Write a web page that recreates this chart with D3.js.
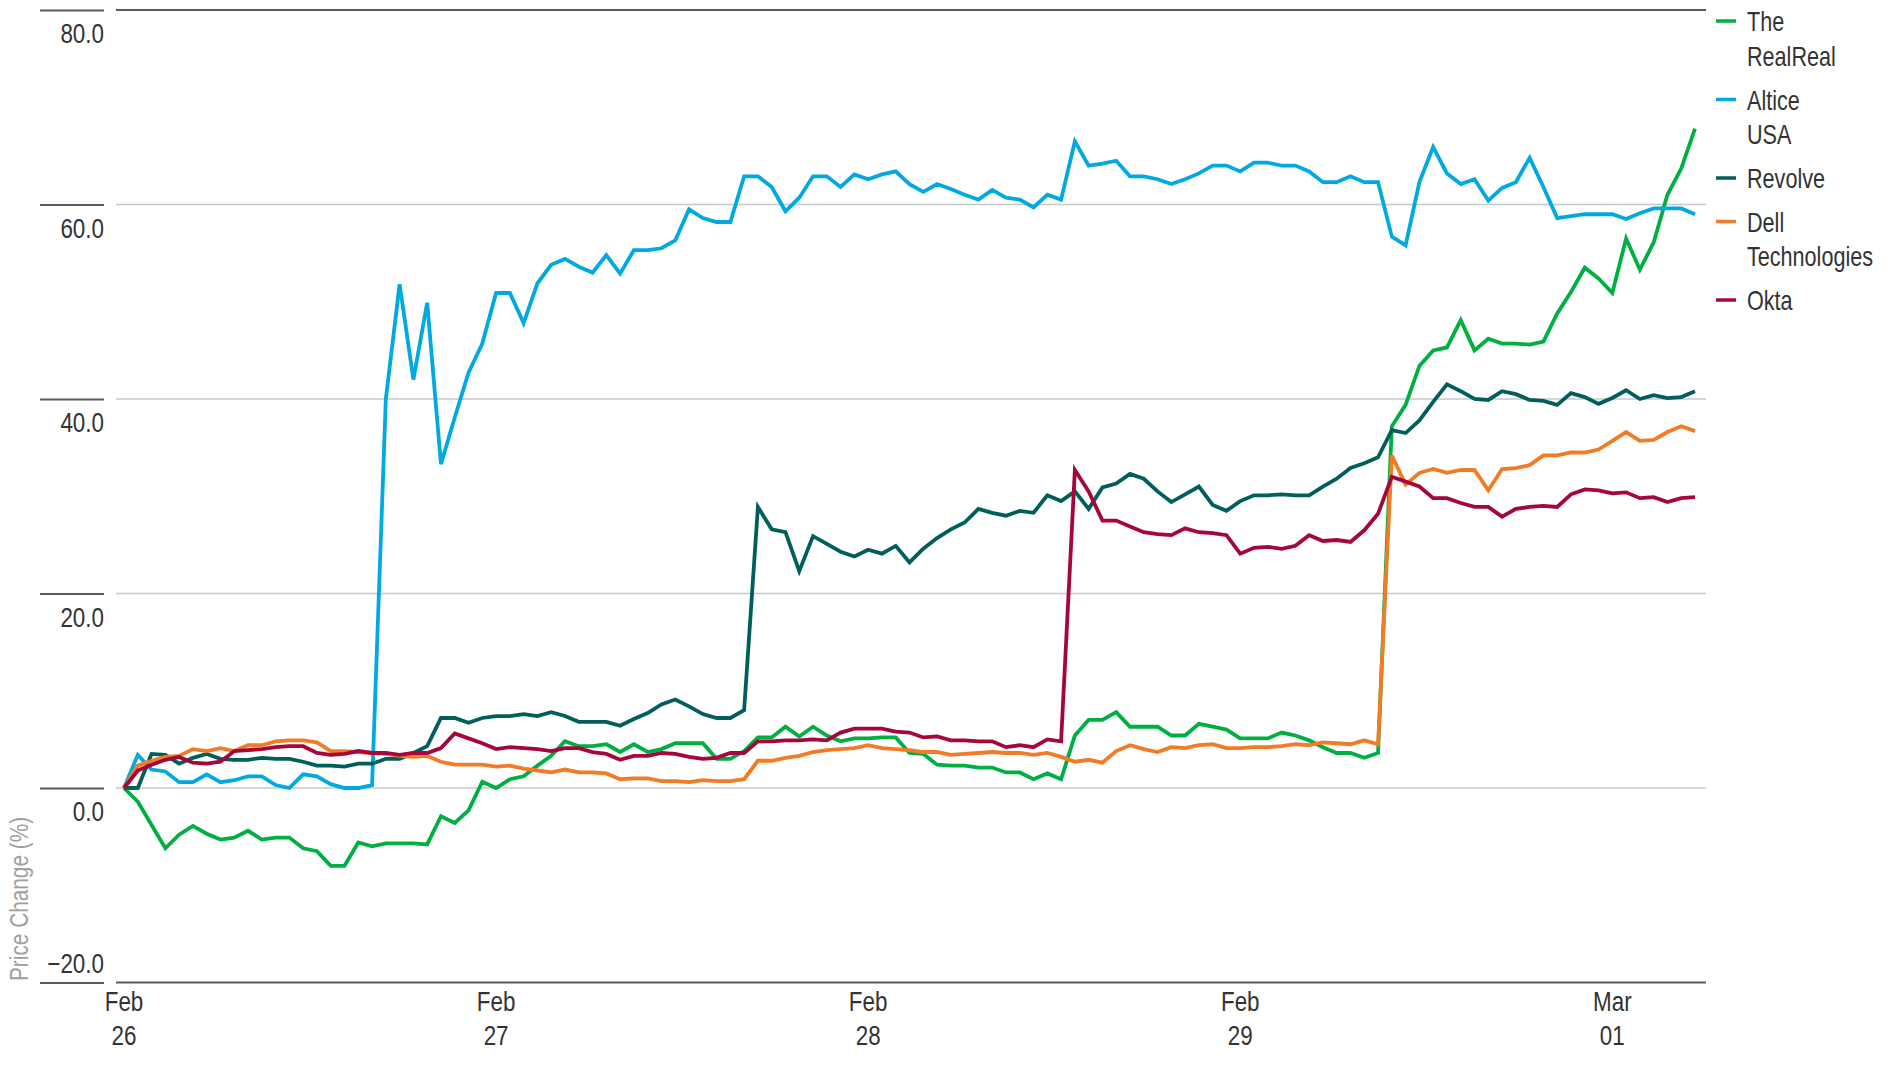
<!DOCTYPE html>
<html>
<head>
<meta charset="utf-8">
<script src="https://cdn.jsdelivr.net/npm/d3@7"></script>
<style>
  body { margin: 0; background: #fff; }
  text { font-family: "Liberation Sans", Arial, sans-serif; }
</style>
</head>
<body>
<svg class="lc_svg"><g class="lc_g"></g></svg>
<script>
// price change (%) per intraday step, Feb 26 - Mar 01
var realreal = [0, -1.4, -3.8, -6.2, -4.8, -3.9, -4.7, -5.3, -5.1, -4.4, -5.3, -5.1, -5.1, -6.2, -6.5, -8.0, -8.0, -5.6, -6.0, -5.7, -5.7, -5.7, -5.8, -2.9, -3.6, -2.3, 0.65, 0.0,
  0.9, 1.2, 2.3, 3.3, 4.8, 4.3, 4.3, 4.5, 3.7, 4.5, 3.7, 4.0, 4.6, 4.6, 4.6, 3.0, 3.0, 3.8, 5.2, 5.2, 6.3, 5.3, 6.3, 5.4, 4.8, 5.1, 5.1, 5.2, 5.2, 3.6, 3.5, 2.4, 2.3, 2.3, 2.1, 2.1,
  1.6, 1.6, 0.9, 1.5, 0.9, 5.4, 7.0, 7.0, 7.8, 6.3, 6.3, 6.3, 5.4, 5.4, 6.6, 6.3, 6.0, 5.1, 5.1, 5.1, 5.7, 5.4, 4.9, 4.2, 3.6, 3.6, 3.1, 3.6,
  37.2, 39.4, 43.4, 45.0, 45.3, 48.1, 45.0, 46.2, 45.7, 45.7, 45.6, 45.9, 48.8, 51.0, 53.5, 52.4, 50.9, 56.5, 53.3, 56.1, 61.0, 63.7, 67.8]

var altice = [0, 3.4, 1.9, 1.7, 0.6, 0.6, 1.4, 0.6, 0.8, 1.2, 1.2, 0.3, 0.0, 1.4, 1.2, 0.4, 0.0, 0.0, 0.3,
  40.0, 51.8, 42.0, 49.9, 33.3, 38.1, 42.7,
  45.7, 50.9, 50.9, 47.8, 51.9, 53.8, 54.4, 53.6, 53.0, 54.8, 52.9, 55.3, 55.3, 55.5, 56.3, 59.5, 58.6, 58.2, 58.2, 62.9, 62.9, 61.8, 59.3, 60.7, 62.9, 62.9, 61.8, 63.1, 62.6, 63.1, 63.4, 62.1, 61.3, 62.1, 61.6, 61.0, 60.5, 61.5,
  60.7, 60.5, 59.7, 61.0, 60.5, 66.5, 64.0, 64.2, 64.5, 62.9, 62.9, 62.6, 62.1, 62.6, 63.2, 64.0, 64.0, 63.4, 64.3, 64.3, 64.0, 64.0, 63.4, 62.3, 62.3, 62.9, 62.3, 62.3,
  56.7, 55.8, 62.3, 65.9, 63.2, 62.1, 62.6, 60.4, 61.7, 62.3, 64.8, 61.8, 58.6, 58.8, 59.0, 59.0, 59.0, 58.5, 59.1, 59.6, 59.6, 59.6, 59.0]

var revolve = [0, 0, 3.5, 3.4, 2.5, 3.1, 3.5, 3.0, 2.9, 2.9, 3.1, 3.0, 3.0, 2.7, 2.3, 2.3, 2.2, 2.5, 2.5, 3.0, 3.0, 3.6, 4.3, 7.2, 7.2, 6.7, 7.2, 7.4,
  7.4, 7.6, 7.4, 7.8, 7.4, 6.8, 6.8, 6.8, 6.4, 7.1, 7.7, 8.6, 9.1, 8.4, 7.6, 7.2, 7.2, 8.0, 28.9, 26.6, 26.3, 22.3, 25.9, 25.1, 24.3, 23.8, 24.5, 24.1, 24.9, 23.2, 24.6, 25.7, 26.6, 27.3, 28.7, 28.3,
  28.0, 28.5, 28.3, 30.1, 29.5, 30.5, 28.7, 30.9, 31.3, 32.3, 31.8, 30.5, 29.4, 30.2, 31.0, 29.1, 28.5, 29.5, 30.1, 30.1, 30.2, 30.1, 30.1, 31.0, 31.8, 32.9, 33.4, 34.0,
  36.8, 36.5, 37.8, 39.7, 41.5, 40.8, 40.0, 39.9, 40.8, 40.5, 39.9, 39.8, 39.4, 40.6, 40.2, 39.5, 40.1, 40.9, 40.0, 40.4, 40.1, 40.2, 40.8]

var dell = [0, 2.3, 2.8, 3.2, 3.3, 4.0, 3.8, 4.1, 3.8, 4.4, 4.4, 4.8, 4.9, 4.9, 4.7, 3.8, 3.8, 3.7, 3.6, 3.5, 3.3, 3.2, 3.3, 2.7, 2.4, 2.4, 2.4, 2.2,
  2.3, 2.0, 1.8, 1.6, 1.9, 1.6, 1.6, 1.5, 0.9, 1.0, 1.0, 0.7, 0.7, 0.6, 0.8, 0.7, 0.7, 0.9, 2.8, 2.8, 3.1, 3.3, 3.7, 3.9, 4.0, 4.1, 4.4, 4.1, 4.0, 3.9, 3.7, 3.7, 3.4, 3.5, 3.6, 3.7,
  3.6, 3.6, 3.4, 3.6, 3.2, 2.7, 2.9, 2.6, 3.8, 4.4, 4.0, 3.7, 4.2, 4.1, 4.4, 4.5, 4.1, 4.1, 4.2, 4.2, 4.3, 4.5, 4.4, 4.7, 4.6, 4.5, 4.9, 4.5,
  34.2, 31.2, 32.4, 32.8, 32.4, 32.7, 32.7, 30.6, 32.8, 32.9, 33.2, 34.2, 34.2, 34.5, 34.5, 34.8, 35.7, 36.6, 35.7, 35.8, 36.6, 37.2, 36.7]

var okta = [0, 1.8, 2.4, 2.9, 3.2, 2.6, 2.5, 2.7, 3.8, 3.9, 4.0, 4.2, 4.3, 4.3, 3.6, 3.4, 3.5, 3.8, 3.6, 3.6, 3.4, 3.6, 3.6, 4.1, 5.6, 5.1, 4.6, 4.0,
  4.2, 4.1, 4.0, 3.8, 4.1, 4.1, 3.7, 3.5, 2.9, 3.3, 3.3, 3.6, 3.5, 3.2, 3.0, 3.1, 3.6, 3.6, 4.8, 4.8, 4.9, 4.9, 5.0, 4.9, 5.7, 6.1, 6.1, 6.1, 5.8, 5.7, 5.2, 5.3, 4.9, 4.9, 4.8, 4.8,
  4.2, 4.4, 4.2, 5.0, 4.8, 32.7, 30.5, 27.5, 27.5, 26.9, 26.3, 26.1, 26.0, 26.7, 26.3, 26.2, 26.0, 24.1, 24.7, 24.8, 24.6, 24.9, 26.0, 25.4, 25.5, 25.3, 26.5, 28.2,
  32.0, 31.5, 31.0, 29.8, 29.8, 29.3, 28.9, 28.9, 27.9, 28.7, 28.9, 29.0, 28.9, 30.2, 30.7, 30.6, 30.3, 30.4, 29.8, 29.9, 29.4, 29.8, 29.9]

var seriesNames = [["The", "RealReal"], ["Altice", "USA"], ["Revolve"], ["Dell", "Technologies"], ["Okta"]]
var seriesColors = ["#00af41", "#00a9e0", "#005f5b", "#f27b26", "#a5073c"]

// first step of each trading day and its label
var dayTicks = [0, 27, 54, 81, 108]
var dayLabels = [["Feb", "26"], ["Feb", "27"], ["Feb", "28"], ["Feb", "29"], ["Mar", "01"]]
var yTicks = [-20, 0, 20, 40, 60, 80]

var allSeries = [realreal, altice, revolve, dell, okta]

// no narrow font installed, so squeeze Liberation Sans sideways
var narrow = "scale(0.8,1)"

var W = 1896, H = 1065
var svg = d3.select(".lc_svg").attr("width", W).attr("height", H)
var container = svg.select(".lc_g")

var x_scale = d3.scaleLinear().domain([0, realreal.length - 1]).range([124, 1695])
var y_scale = d3.scaleLinear().domain([-20, 80]).range([982.5, 10])

var gridLeft = 116, gridRight = 1706

// grid lines, darker at top and bottom
container.selectAll(".grid").data(yTicks).join("line")
  .attr("class", "grid")
  .attr("x1", gridLeft).attr("x2", gridRight)
  .attr("y1", d => y_scale(d)).attr("y2", d => y_scale(d))
  .attr("stroke", d => (d === -20 || d === 80) ? "#5b5b5b" : "#c8c8c8")
  .attr("stroke-width", d => (d === -20 || d === 80) ? 2 : 1.6)

// y axis: short tick bars on the left with labels under them
var yAxis = d3.axisLeft(y_scale).tickValues(yTicks).tickSize(0)
  .tickFormat(d => d < 0 ? "\u2212" + d3.format(".1f")(-d) : d3.format(".1f")(d))
var yg = container.append("g").attr("class", "y_axis_g")
  .attr("transform", "translate(104,0)").call(yAxis)
yg.select(".domain").remove()
yg.selectAll(".tick").append("line")
  .attr("x1", -64).attr("x2", 0).attr("stroke", "#5b5b5b").attr("stroke-width", 2)
yg.selectAll(".tick text")
  .attr("x", 0).attr("dy", null)
  .attr("y", d => d === -20 ? -10 : 33)
  .attr("transform", narrow)
  .attr("text-anchor", "end")
  .attr("fill", "#333").attr("font-size", 28)

container.append("text")
  .attr("transform", "translate(28,981) rotate(-90) " + narrow)
  .attr("fill", "#a0a0a0").attr("font-size", 26)
  .text("Price Change (%)")

// x axis labels, two lines
var xg = container.append("g").attr("class", "x_axis_g")
xg.selectAll("g").data(dayTicks).join("g")
  .attr("transform", d => `translate(${x_scale(d)},0) ${narrow}`)
  .append("text")
  .attr("text-anchor", "middle")
  .attr("fill", "#333").attr("font-size", 28)
  .each(function(d, i) {
    var t = d3.select(this)
    t.append("tspan").attr("x", 0).attr("y", 1011).text(dayLabels[i][0])
    t.append("tspan").attr("x", 0).attr("y", 1045).text(dayLabels[i][1])
  })

var line = d3.line().x((d, i) => x_scale(i)).y(d => y_scale(d))

container.selectAll(".series").data(allSeries).join("path")
  .attr("class", "series")
  .attr("d", d => line(d))
  .attr("fill", "none")
  .attr("stroke", (d, i) => seriesColors[i])
  .attr("stroke-width", 3.8)

// legend
var legY = [], yy = 21
seriesNames.forEach(n => { legY.push(yy); yy += n.length * 35 + 8.5 })

var leg = container.selectAll(".legend").data(seriesNames).join("g")
  .attr("class", "legend")
  .attr("transform", (d, i) => `translate(1716,${legY[i]})`)
leg.append("line")
  .attr("x1", 0).attr("x2", 20)
  .attr("stroke", (d, i) => seriesColors[i]).attr("stroke-width", 3.5)
leg.each(function(d) {
  var t = d3.select(this).append("g").attr("transform", "translate(31,0) " + narrow)
    .append("text").attr("fill", "#333").attr("font-size", 27)
  d.forEach((s, k) => {
    t.append("tspan").attr("x", 0).attr("y", 10 + k * 35).text(s)
  })
})
</script>
</body>
</html>
